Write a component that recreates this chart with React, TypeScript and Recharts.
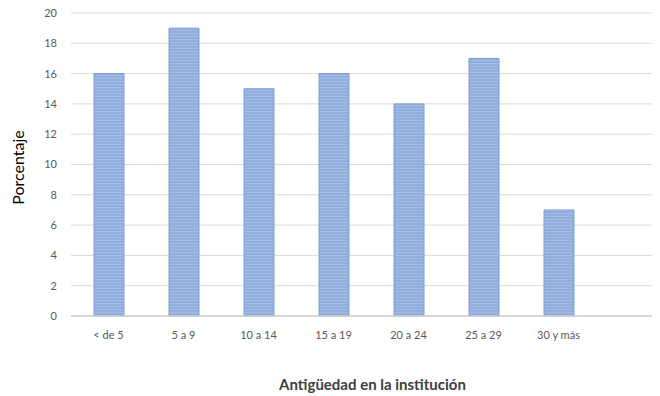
import { BarChart, Bar, XAxis, YAxis, CartesianGrid } from 'recharts';

const categories = ['< de 5', '5 a 9', '10 a 14', '15 a 19', '20 a 24', '25 a 29', '30 y más'];
const percentages = [16, 19, 15, 16, 14, 17, 7];
const yTicks = [0, 2, 4, 6, 8, 10, 12, 14, 16, 18, 20];

const data = categories.map((name, i) => ({ name, value: percentages[i] }));

const font = 'Lato, "Open Sans", "Liberation Sans", sans-serif';

export default function App() {
  return (
    <div style={{ position: 'fixed', left: 0, top: 0, width: 660, height: 396, background: '#fff' }}>
      <BarChart
        width={660}
        height={396}
        data={data}
        margin={{ top: 13, right: 8, bottom: 0, left: 0 }}
        barSize={30}
      >
        <defs>
          {/* horizontal striped fill of the bars */}
          <pattern id="stripes" width="4" height="3" patternUnits="userSpaceOnUse">
            <rect width="4" height="3" fill="#91AEDC" />
            <rect width="4" height="1" fill="#A3BCE3" />
          </pattern>
        </defs>
        <CartesianGrid vertical={false} stroke="#d9d9d9" />
        <XAxis
          dataKey="name"
          height={80}
          padding={{ left: 0, right: 56 }}
          tickLine={false}
          axisLine={{ stroke: '#d0d0d0', strokeWidth: 1.5 }}
          tick={{ fill: '#595959', fontSize: 11, fontFamily: font }}
          tickMargin={9}
          interval={0}
          label={{
            value: 'Antigüedad en la institución',
            position: 'insideBottom',
            offset: 6,
            dx: 11,
            style: { fill: '#404040', fontSize: 15, fontWeight: 'bold', fontFamily: font },
          }}
        />
        <YAxis
          width={71}
          domain={[0, 20]}
          ticks={yTicks}
          tickLine={false}
          axisLine={false}
          tickMargin={8}
          tick={{ fill: '#595959', fontSize: 11, fontFamily: font }}
          label={{
            value: 'Porcentaje',
            angle: -90,
            position: 'insideLeft',
            offset: 18,
            dy: 3,
            style: { textAnchor: 'middle', fill: '#000', fontSize: 16, fontFamily: font },
          }}
        />
        <Bar dataKey="value" fill="url(#stripes)" stroke="#7C9ED3" strokeWidth={1} isAnimationActive={false} />
      </BarChart>
    </div>
  );
}
